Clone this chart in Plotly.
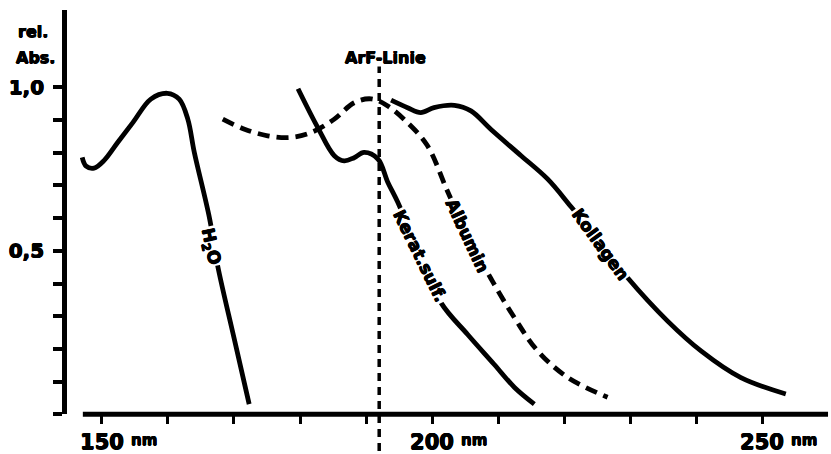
import plotly.graph_objects as go

# ---------------- data ----------------
H2O_NM = [147.0, 147.6, 148.8, 150.3, 152.4, 154.7, 157.4, 159.9, 161.7, 163.0, 164.0, 166.3, 167.5, 170.0, 172.3]
H2O_ABS = [0.786, 0.759, 0.753, 0.776, 0.832, 0.893, 0.964, 0.982, 0.964, 0.903, 0.800, 0.599, 0.457, 0.234, 0.031]

KERAT_NM = [179.7, 182.7, 185.2, 186.7, 188.2, 189.7, 191.8, 193.3, 194.8, 198.0, 201.4, 205.4, 209.4, 212.5, 215.5]
KERAT_ABS = [0.996, 0.877, 0.791, 0.775, 0.785, 0.801, 0.781, 0.710, 0.649, 0.495, 0.340, 0.244, 0.153, 0.082, 0.031]

ALBUMIN_NM = [168.3, 171.6, 175.1, 178.6, 181.7, 185.2, 188.2, 190.8, 193.3, 196.3, 199.3, 202.4, 205.4, 208.9, 212.5, 216.0, 220.6, 226.6]
ALBUMIN_ABS = [0.903, 0.872, 0.852, 0.847, 0.862, 0.903, 0.953, 0.965, 0.943, 0.892, 0.822, 0.680, 0.548, 0.416, 0.295, 0.194, 0.112, 0.052]

KOLL_NM = [193.8, 196.3, 198.3, 200.3, 203.4, 205.9, 208.9, 213.5, 217.5, 221.1, 225.5, 229.7, 235.7, 240.8, 246.8, 253.6]
KOLL_ABS = [0.961, 0.938, 0.923, 0.938, 0.945, 0.928, 0.872, 0.791, 0.720, 0.634, 0.525, 0.416, 0.285, 0.193, 0.112, 0.062]

ARF_NM = 192.0

X_TICKS = [150, 160, 170, 180, 190, 200, 210, 220, 230, 240, 250]
X_TICKTEXT = ["150", "", "", "", "", "200", "", "", "", "", "250"]
X_UNIT_TICKS = [150, 200, 250]
Y_TICKS = [0.0, 0.1, 0.2, 0.3, 0.4, 0.5, 0.6, 0.7, 0.8, 0.9, 1.0]
Y_TICKTEXT = ["", "", "", "", "", "0,5", "", "", "", "", "1,0"]

# curve labels: (text, nm, abs, angle)
LABELS = [
    ("H<sub>2</sub>O", 166.4, 0.514, 78),
    ("Kerat.sulf.", 198.2, 0.484, 64),
    ("Albumin", 205.4, 0.546, 65),
    ("Kollagen", 225.5, 0.521, 54),
]

# ---------------- figure ----------------
W, H = 831, 454
FONT = "DejaVu Sans"
LW = 4.8
HEAVY = "0.5px 0 0 black, -0.5px 0 0 black, 0 0.5px 0 black, 0 -0.5px 0 black"

def tfont(size):
    return dict(family=FONT, size=size, color="black", weight="bold", shadow=HEAVY)

fig = go.Figure()

def add_curve(x, y, dash="solid"):
    fig.add_trace(go.Scatter(
        x=x, y=y, mode="lines",
        line=dict(color="black", width=LW, shape="spline", smoothing=1.0, dash=dash),
        hoverinfo="skip", showlegend=False,
    ))

add_curve(H2O_NM, H2O_ABS)
add_curve(ALBUMIN_NM, ALBUMIN_ABS, dash="12px,7px")
add_curve(KERAT_NM, KERAT_ABS)
add_curve(KOLL_NM, KOLL_ABS)

annotations = []
for text, xv, yv, ang in LABELS:
    annotations.append(dict(
        text=text, x=xv, y=yv, xref="x", yref="y", showarrow=False,
        textangle=ang, bgcolor="white", borderpad=1, font=tfont(17),
    ))

annotations += [
    dict(text="rel.", x=33 / W, y=1 - 32 / H, xref="paper", yref="paper", showarrow=False,
         xanchor="center", yanchor="middle", font=tfont(16)),
    dict(text="Abs.", x=35 / W, y=1 - 58 / H, xref="paper", yref="paper", showarrow=False,
         xanchor="center", yanchor="middle", font=tfont(16)),
    dict(text="ArF-Linie", x=ARF_NM, y=1 - 58 / H, xref="x", yref="paper", showarrow=False,
         xanchor="center", yanchor="middle", xshift=6, font=tfont(16)),
]
for t in X_UNIT_TICKS:
    annotations.append(dict(
        text="nm", x=t, y=1 - 443 / H, xref="x", yref="paper", showarrow=False,
        xanchor="left", yanchor="middle", xshift=27, font=tfont(15),
    ))

shapes = [
    # x axis line (starts slightly right of the y axis)
    dict(type="line", xref="x", yref="paper", x0=147.1, x1=260.0,
         y0=1 - 417 / H, y1=1 - 417 / H, line=dict(color="black", width=LW)),
    # ArF line
    dict(type="line", xref="x", yref="paper", x0=ARF_NM, x1=ARF_NM,
         y0=0, y1=1 - 67 / H, line=dict(color="black", width=3.5, dash="8px,6px")),
]

fig.update_layout(
    width=W, height=H,
    margin=dict(l=0, r=0, t=0, b=0),
    paper_bgcolor="white", plot_bgcolor="white",
    showlegend=False,
    annotations=annotations,
    shapes=shapes,
    xaxis=dict(
        domain=[67 / W, 1], range=[144.70, 260.45],
        showgrid=False, zeroline=False, showline=False,
        ticks="outside", ticklen=9, tickwidth=3, tickcolor="black",
        tickmode="array", tickvals=X_TICKS, ticktext=X_TICKTEXT,
        tickfont=tfont(21),
        ticklabelstandoff=0,
    ),
    yaxis=dict(
        domain=[1 - 417 / H, 1 - 10 / H], range=[0, 1.237],
        showgrid=False, zeroline=False,
        showline=True, linewidth=LW, linecolor="black",
        ticks="outside", ticklen=9, tickwidth=3.5, tickcolor="black",
        tickmode="array", tickvals=Y_TICKS, ticktext=Y_TICKTEXT,
        tickfont=tfont(20),
        ticklabelstandoff=5,
    ),
)

fig.write_html("out.html")
